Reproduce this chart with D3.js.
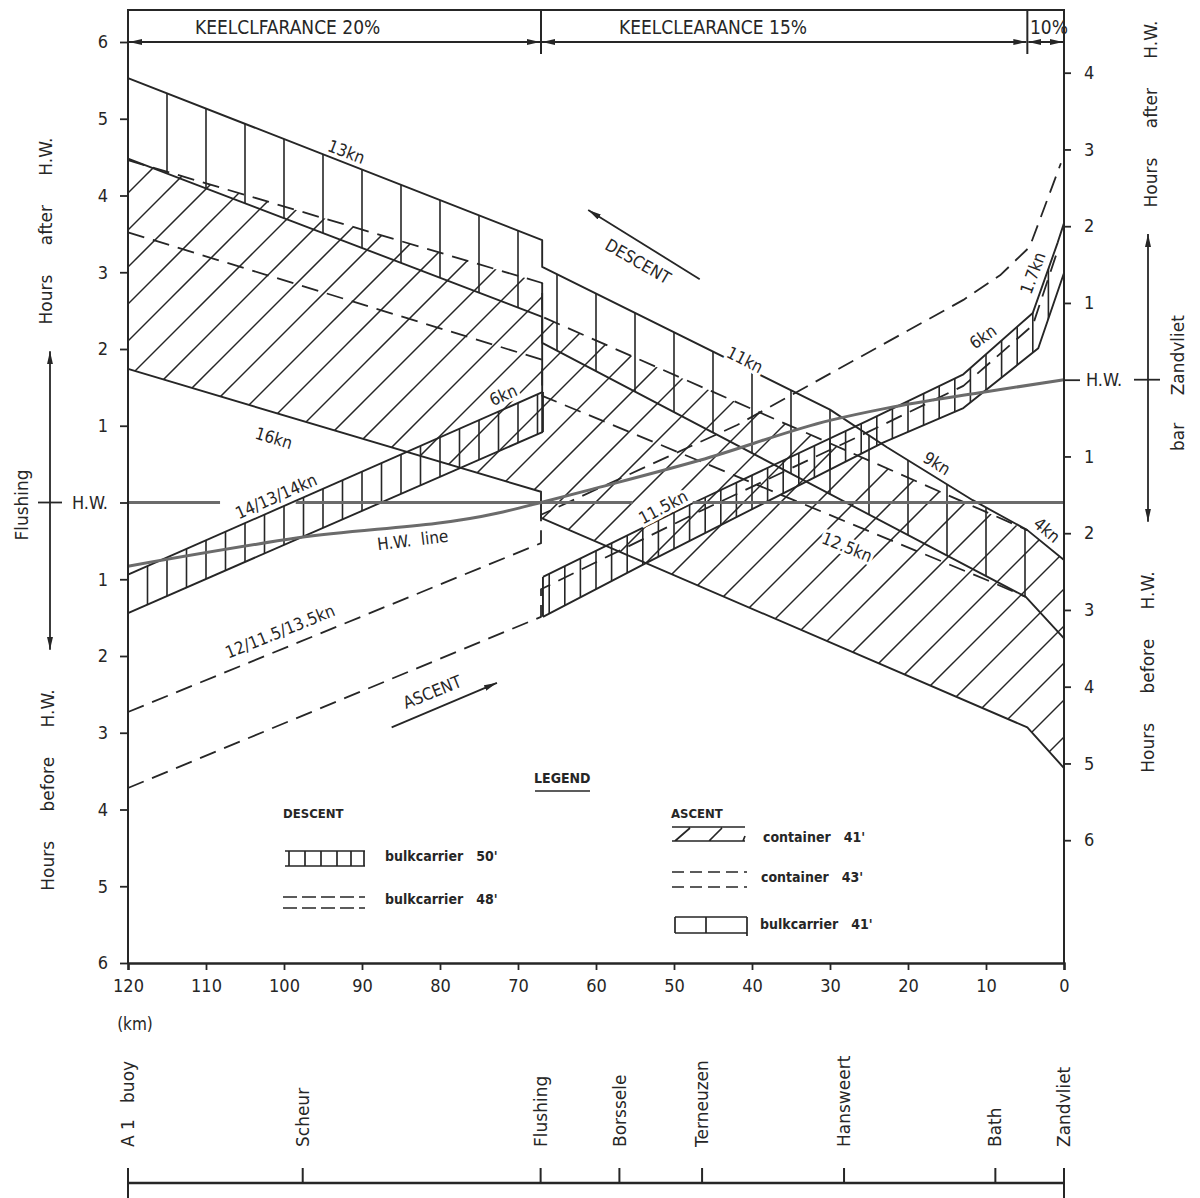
<!DOCTYPE html>
<html>
<head>
<meta charset="utf-8">
<script src="https://cdn.jsdelivr.net/npm/d3@7"></script>
<style>
  body { margin: 0; background: #fff; }
  svg { display: block; }
  text { font-family: "DejaVu Sans Condensed", "Liberation Sans Narrow", "DejaVu Sans", sans-serif; fill: #262626; }
  .tick line { stroke: #262626; stroke-width: 1.8; }
  .tick text { font-size: 18px; }
</style>
</head>
<body>
<svg id="chart"></svg>
<script>
var W = 1200, H = 1198;

// ---- data: [km from Zandvliet, hours relative to H.W. Flushing (+ after)] ----
var descent50Top     = [[120, 5.53], [66.9, 3.42], [66.9, 3.07], [30.0, 1.21], [22.7, 0.72], [11.7, 0.03], [4.7, -0.36], [0, -0.75]];
var descent50Bottom  = [[120, 4.48], [66.9, 2.42], [66.9, 2.08], [4.9, -1.23], [0, -1.77]];
var descent48Upper   = [[120, 4.46], [66.9, 2.86], [66.9, 2.42], [4.7, -0.36]];
var descent48Lower   = [[120, 3.52], [66.9, 1.86], [66.9, 1.39], [9.9, -1.01], [4.9, -1.23]];
var container41Lower = [[120, 1.74], [67.05, 0.14], [67.05, -0.20], [4.7, -2.93], [0, -3.46]];
var bulk41LeftUpper  = [[120, -0.94], [66.8, 1.44]];
var bulk41LeftLower  = [[120, -1.44], [66.8, 0.92]];
var bulk41RightUpper = [[66.8, -0.97], [47.4, 0.0], [25.1, 1.07], [12.9, 1.67], [4.0, 2.47], [0.8, 3.39], [0, 3.64]];
var bulk41RightLower = [[66.8, -1.49], [53.6, -0.79], [23.2, 0.78], [12.9, 1.23], [3.3, 2.01], [0, 2.99]];
var container43Upper = [[120, -2.73], [67.05, -0.53], [67.05, -0.16], [41.9, 1.01], [12.9, 2.64], [8.2, 2.96], [4.4, 3.33], [0.4, 4.42]];
var container43Lower = [[120, -3.72], [67.05, -1.49], [67.05, -1.13], [47.4, -0.15], [25.1, 0.92], [12.9, 1.52], [4.0, 2.31], [0.8, 3.29]];
var hwLine           = [[120, -0.83], [98.2, -0.46], [72.7, -0.14], [67.05, 0], [59.5, 0.20], [46.7, 0.55], [30, 1.07], [22.7, 1.23], [10.8, 1.43], [0, 1.60]];
var hwFlushingParts  = [[120, 108.2], [98.5, 55.3], [47.6, 0]];
var flushingStep     = [[66.9, 2.86], [66.9, 0.92]];

var zandvlietLag = 1.6;   // H.W. Zandvliet, hours after H.W. Flushing

var kmTicks    = [120, 110, 100, 90, 80, 70, 60, 50, 40, 30, 20, 10, 0];
var leftTicks  = [6, 5, 4, 3, 2, 1, 0, -1, -2, -3, -4, -5, -6];
var rightTicks = [4, 3, 2, 1, 0, -1, -2, -3, -4, -5, -6];

var keelLabels = ["KEELCLFARANCE 20%", "KEELCLEARANCE 15%", "10%"];
var keelBounds = [120, 67.05, 4.7, 0];

var places   = ["A 1   buoy", "Scheur", "Flushing", "Borssele", "Terneuzen", "Hansweert", "Bath", "Zandvliet"];
var placesKm = [120, 97.6, 67.1, 57.0, 46.4, 28.2, 8.8, 0];

// annotations along the curves: text, km, hours, rotation
var curveLabels = [
  ["13kn", 92.0, 4.57, 21], ["16kn", 101.3, 0.84, 17], ["14/13/14kn", 101.0, 0.08, -24],
  ["6kn", 71.9, 1.40, -24], ["H.W.  line", 83.5, -0.49, -7], ["12/11.5/13.5kn", 100.5, -1.68, -22],
  ["ASCENT", 81.0, -2.47, -22], ["DESCENT", 54.6, 3.14, 30], ["11kn", 40.9, 1.86, 27],
  ["9kn", 16.3, 0.51, 32], ["4kn", 2.2, -0.36, 40], ["12.5kn", 27.8, -0.58, 22],
  ["11.5kn", 51.4, -0.06, -28], ["6kn", 10.4, 2.16, -35], ["1.7kn", 4.0, 2.99, -70]
];
var ascentArrow  = [[86.2, -2.93], [72.7, -2.35]];
var descentArrow = [[46.7, 2.91], [61.0, 3.81]];

// ---- scales ----
var x = d3.scaleLinear().domain([120, 0]).range([128, 1064]);
var y = d3.scaleLinear().domain([6, -6]).range([42, 963]);
var yR = y.copy().domain([6 - zandvlietLag, -6 - zandvlietLag]);

var ink = "#262626", grey = "#6b6b6b";

var svg = d3.select("#chart").attr("width", W).attr("height", H);
svg.append("rect").attr("width", W).attr("height", H).attr("fill", "#fff");
var defs = svg.append("defs");
defs.append("marker").attr("id", "arr")
    .attr("viewBox", "0 0 13 6").attr("refX", 13).attr("refY", 3)
    .attr("markerWidth", 13).attr("markerHeight", 6)
    .attr("markerUnits", "userSpaceOnUse").attr("orient", "auto-start-reverse")
    .append("path").attr("d", "M0,0L13,3L0,6z").attr("fill", ink);

var line = d3.line().x(d => x(d[0])).y(d => y(d[1]));
function band(top, bottom) { return line(top.concat(bottom.slice().reverse())) + "Z"; }

function addClip(id, d) { defs.append("clipPath").attr("id", id).append("path").attr("d", d); }
addClip("cD50", band(descent50Top, descent50Bottom));
addClip("cH1", band(descent48Upper.concat([descent50Top[descent50Top.length - 1]]), container41Lower));
addClip("cV2L", band(bulk41LeftUpper, bulk41LeftLower));
addClip("cV2R", band(bulk41RightUpper, bulk41RightLower));

var plot = svg.append("g");

// ---- hatching ----
function verticals(clip, kms) {
  plot.append("g").attr("clip-path", "url(#" + clip + ")")
    .selectAll("line").data(kms).enter().append("line")
    .attr("x1", d => x(d)).attr("x2", d => x(d))
    .attr("y1", y(7)).attr("y2", y(-7))
    .attr("stroke", ink).attr("stroke-width", 1.6);
}
plot.append("g").attr("clip-path", "url(#cH1)")
  .selectAll("line").data(d3.range(321 - 37 * 12, 2200, 37)).enter().append("line")
  .attr("x1", d => d - 1200).attr("y1", 1200).attr("x2", d => d).attr("y2", 0)
  .attr("stroke", ink).attr("stroke-width", 1.5);
verticals("cD50", d3.range(115, 4, -5));
verticals("cV2L", d3.range(117.5, 67, -2.5));
verticals("cV2R", d3.range(66, 0, -2));

// ---- outlines ----
function path(data, opts) {
  return plot.append("path").attr("d", line(data)).attr("fill", "none")
    .attr("stroke", opts.stroke || ink).attr("stroke-width", opts.w || 1.9)
    .attr("stroke-dasharray", opts.dash || null).attr("stroke-linejoin", "round");
}
[descent50Top, descent50Bottom, container41Lower, bulk41LeftUpper, bulk41LeftLower,
 bulk41RightUpper, bulk41RightLower, flushingStep].forEach(d => path(d, {}));
path([bulk41LeftUpper[1], bulk41LeftLower[1]], {});
path([bulk41RightUpper[0], bulk41RightLower[0]], {});
[descent48Upper, descent48Lower, container43Upper, container43Lower]
  .forEach(d => path(d, { dash: "17,9", w: 1.8 }));

// H.W. lines
hwFlushingParts.forEach(p => path([[p[0], 0], [p[1], 0]], { stroke: grey, w: 3.2 }));
path(hwLine, { stroke: grey, w: 3 }).attr("d", d3.line().x(d => x(d[0])).y(d => y(d[1])).curve(d3.curveMonotoneX)(hwLine));

// ---- frame and header ----
var frame = svg.append("g").attr("stroke", ink).attr("stroke-width", 2).attr("fill", "none");
frame.append("path").attr("d", "M" + x(120) + "," + y(-6) + "V10H" + x(0) + "V" + y(-6));
frame.selectAll(".div").data(keelBounds.slice(1, 3)).enter().append("line")
  .attr("x1", d => x(d)).attr("x2", d => x(d)).attr("y1", 10).attr("y2", y(6) + 12);
svg.append("g").selectAll("line").data(d3.range(3)).enter().append("line")
  .attr("x1", i => x(keelBounds[i]) + 1).attr("x2", i => x(keelBounds[i + 1]) - 1)
  .attr("y1", y(6)).attr("y2", y(6))
  .attr("stroke", ink).attr("stroke-width", 1.8)
  .attr("marker-start", "url(#arr)").attr("marker-end", "url(#arr)");
var keelX = [195, 619, 1030];
svg.append("g").selectAll("text").data(keelLabels).enter().append("text")
  .attr("x", (d, i) => keelX[i]).attr("y", 34)
  .style("font-size", "19px").text(d => d);

// ---- axes ----
var ax = svg.append("g").attr("transform", "translate(" + x(120) + ",0)")
  .call(d3.axisLeft(y).tickValues(leftTicks).tickSize(8).tickPadding(12)
    .tickFormat(d => d === 0 ? "H.W." : Math.abs(d)));
ax.select(".domain").remove();
var axR = svg.append("g").attr("transform", "translate(" + x(0) + ",0)")
  .call(d3.axisRight(yR).tickValues(rightTicks).tickSize(7).tickPadding(13)
    .tickFormat(d => d === 0 ? "H.W." : Math.abs(d)));
axR.select(".domain").remove();
axR.selectAll(".tick").filter(d => d === 0).select("line").attr("x2", 16);
axR.selectAll(".tick").filter(d => d === 0).select("text").attr("x", 22);
var axB = svg.append("g").attr("transform", "translate(0," + y(-6) + ")")
  .call(d3.axisBottom(x).tickValues(kmTicks).tickSize(7).tickPadding(9));
axB.select(".domain").attr("stroke", ink).attr("stroke-width", 2.4);
svg.selectAll(".tick text").attr("fill", ink);
svg.append("text").attr("x", 135).attr("y", 1030).attr("text-anchor", "middle")
  .style("font-size", "17px").text("(km)");

// axis titles
function vtext(t, cx, cy, size, ws) {
  svg.append("text").attr("transform", "translate(" + cx + "," + cy + ") rotate(-90)")
    .attr("text-anchor", "middle").attr("dy", "0.35em")
    .style("font-family", "'DejaVu Sans', sans-serif")
    .style("font-size", size + "px").style("word-spacing", ws + "px").text(t);
}
vtext("Hours after H.W.", 46, 231, 17, 24);
vtext("Flushing", 22, 505, 17, 0);
vtext("Hours before H.W.", 48, 790, 17, 24);
vtext("Hours after H.W.", 1151, 114, 17, 24);
vtext("bar Zandvliet", 1178, 383, 17, 22);
vtext("Hours before H.W.", 1148, 672, 17, 24);

// side arrows with H.W. cross ticks
var side = svg.append("g").attr("stroke", ink).attr("stroke-width", 1.8);
side.append("line").attr("x1", 50).attr("x2", 50).attr("y1", y(1.97)).attr("y2", y(-1.92))
  .attr("marker-start", "url(#arr)").attr("marker-end", "url(#arr)");
side.append("line").attr("x1", 38).attr("x2", 62).attr("y1", y(0)).attr("y2", y(0));
side.append("line").attr("x1", 1148).attr("x2", 1148).attr("y1", yR(1.9)).attr("y2", yR(-1.85))
  .attr("marker-start", "url(#arr)").attr("marker-end", "url(#arr)");
side.append("line").attr("x1", 1134).attr("x2", 1160).attr("y1", yR(0)).attr("y2", yR(0));

// ---- curve labels & direction arrows ----
svg.append("g").selectAll("text").data(curveLabels).enter().append("text")
  .attr("transform", d => "translate(" + x(d[1]) + "," + y(d[2]) + ") rotate(" + d[3] + ")")
  .attr("text-anchor", "middle").attr("dy", "0.35em")
  .style("font-size", "17px").style("white-space", "pre")
  .attr("stroke", "#fff").attr("stroke-width", 6).attr("paint-order", "stroke")
  .text(d => d[0]);
[ascentArrow, descentArrow].forEach(a => {
  svg.append("line").attr("x1", x(a[0][0])).attr("y1", y(a[0][1]))
    .attr("x2", x(a[1][0])).attr("y2", y(a[1][1]))
    .attr("stroke", ink).attr("stroke-width", 1.8).attr("marker-end", "url(#arr)");
});

// ---- legend ----
var lg = svg.append("g").attr("stroke", ink).attr("stroke-width", 1.7).attr("fill", "none");
function ltext(t, tx, ty, size, bold) {
  svg.append("text").attr("x", tx).attr("y", ty).style("font-size", size + "px")
    .style("font-weight", bold ? "bold" : null).style("white-space", "pre").text(t);
}
ltext("LEGEND", 534, 783, 14, true);
lg.append("line").attr("x1", 535).attr("x2", 590).attr("y1", 791).attr("y2", 791);
ltext("DESCENT", 283, 818, 13, true);
ltext("ASCENT", 671, 818, 13, true);
// bulkcarrier 50'
lg.append("path").attr("d", "M285,851H365M285,866H365");
lg.selectAll(".v50").data([289, 305, 321, 337, 351, 364]).enter().append("line")
  .attr("x1", d => d).attr("x2", d => d).attr("y1", 851).attr("y2", 866);
ltext("bulkcarrier   50'", 385, 861, 14, true);
// bulkcarrier 48'
lg.append("path").attr("d", "M283,897H365M283,908H365").attr("stroke-dasharray", "14,5");
ltext("bulkcarrier   48'", 385, 904, 14, true);
// container 41'
lg.append("path").attr("d", "M672,827H745M672,841H745M675,841L690,828M709,841L722,828M743,841L745,836");
ltext("container   41'", 763, 842, 14, true);
// container 43'
lg.append("path").attr("d", "M672,872H747M672,887H747").attr("stroke-dasharray", "12,6");
ltext("container   43'", 761, 882, 14, true);
// bulkcarrier 41'
lg.append("path").attr("d", "M675,917H747M675,933H747M675,917V933M706,917V933M747,917V936");
ltext("bulkcarrier   41'", 760, 929, 14, true);

// ---- location ruler ----
var ruler = svg.append("g").attr("stroke", ink).attr("stroke-width", 2);
ruler.append("line").attr("x1", x(120)).attr("x2", x(0)).attr("y1", 1183).attr("y2", 1183).attr("stroke-width", 2.6);
ruler.selectAll(".pt").data(placesKm).enter().append("line")
  .attr("x1", d => x(d)).attr("x2", d => x(d)).attr("y1", 1168)
  .attr("y2", d => (d === 120 || d === 0) ? 1198 : 1183);
svg.append("g").selectAll("text").data(places).enter().append("text")
  .attr("transform", (d, i) => "translate(" + x(placesKm[i]) + ",1147) rotate(-90)")
  .attr("dy", "0.36em").style("font-family", "'DejaVu Sans', sans-serif")
  .style("font-size", "17px").style("white-space", "pre").text(d => d);
</script>
</body>
</html>
